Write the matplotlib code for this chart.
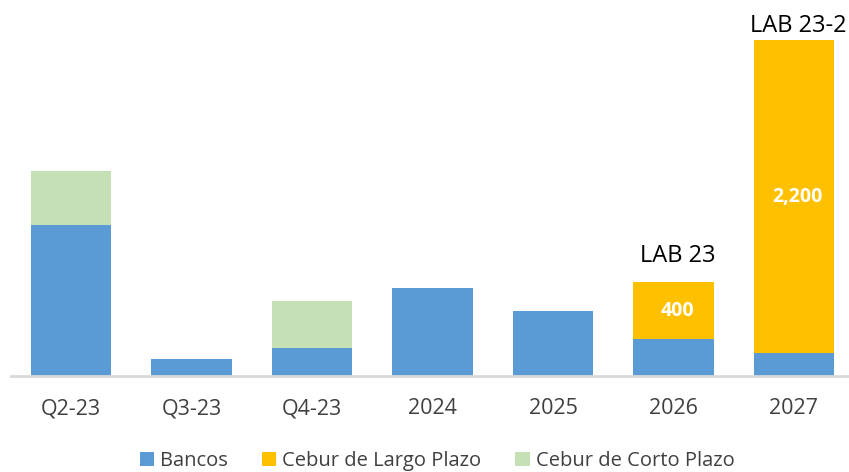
import matplotlib.pyplot as plt
import numpy as np

plt.rcParams['font.family'] = ['Open Sans', 'DejaVu Sans']

# datos (millones)
categorias = ['Q2-23', 'Q3-23', 'Q4-23', '2024', '2025', '2026', '2027']
bancos = [1060, 120, 200, 620, 460, 260, 160]
cebur_largo = [0, 0, 0, 0, 0, 400, 2200]
cebur_corto = [380, 0, 330, 0, 0, 0, 0]
emisiones = {5: 'LAB 23', 6: 'LAB 23-2'}

c_bancos = '#5B9BD5'
c_largo = '#FFC000'
c_corto = '#C5E0B4'

fig = plt.figure(figsize=(8.49, 4.72), dpi=100)
# ejes en pixeles: base en y=376, primera barra centrada en x=71, paso 120.5
ax = fig.add_axes([11 / 849, (472 - 376) / 472, 838 / 849, 356 / 472])

x = np.arange(len(categorias))
ancho = 0.664
ax.bar(x, bancos, ancho, color=c_bancos, label='Bancos')
ax.bar(x, cebur_largo, ancho, bottom=bancos, color=c_largo, label='Cebur de Largo Plazo')
base_corto = np.array(bancos) + np.array(cebur_largo)
ax.bar(x, cebur_corto, ancho, bottom=base_corto, color=c_corto, label='Cebur de Corto Plazo')

px = 7.03  # unidades por pixel

# etiquetas de datos en Cebur largo plazo
for i, v in enumerate(cebur_largo):
    if v > 0:
        ax.text(x[i] + 0.03, bancos[i] + v / 2, f'{v:,}', ha='center', va='center',
                color='white', fontsize=14, fontweight='bold')

# nombres de emisiones encima de las barras
separacion = {5: 20, 6: 8}  # pixeles entre la barra y la linea base del texto
for i, nombre in emisiones.items():
    total = bancos[i] + cebur_largo[i] + cebur_corto[i]
    ax.text(x[i] + 0.035, total + separacion[i] * px, nombre, ha='center', va='baseline',
            fontsize=17, color='black', clip_on=False)

ax.set_ylim(0, 356 * px)
ax.set_xlim(-60 / 120.5, (849 - 71) / 120.5)
ax.set_yticks([])
ax.set_xticks(x)
ax.set_xticklabels(categorias, fontsize=15.5, color='#404040')
ax.tick_params(axis='x', length=0, pad=16)
for s in ['top', 'right', 'left']:
    ax.spines[s].set_visible(False)
ax.spines['bottom'].set_color('#d9d9d9')
ax.spines['bottom'].set_linewidth(2)

fig.legend(loc='center', bbox_to_anchor=(437 / 849, 1 - 461 / 472), ncol=3,
           frameon=False, fontsize=14.5, handlelength=0.7, handleheight=0.7,
           handletextpad=0.3, columnspacing=1.7, labelcolor='#404040')

fig.savefig('out.png', dpi=100)
